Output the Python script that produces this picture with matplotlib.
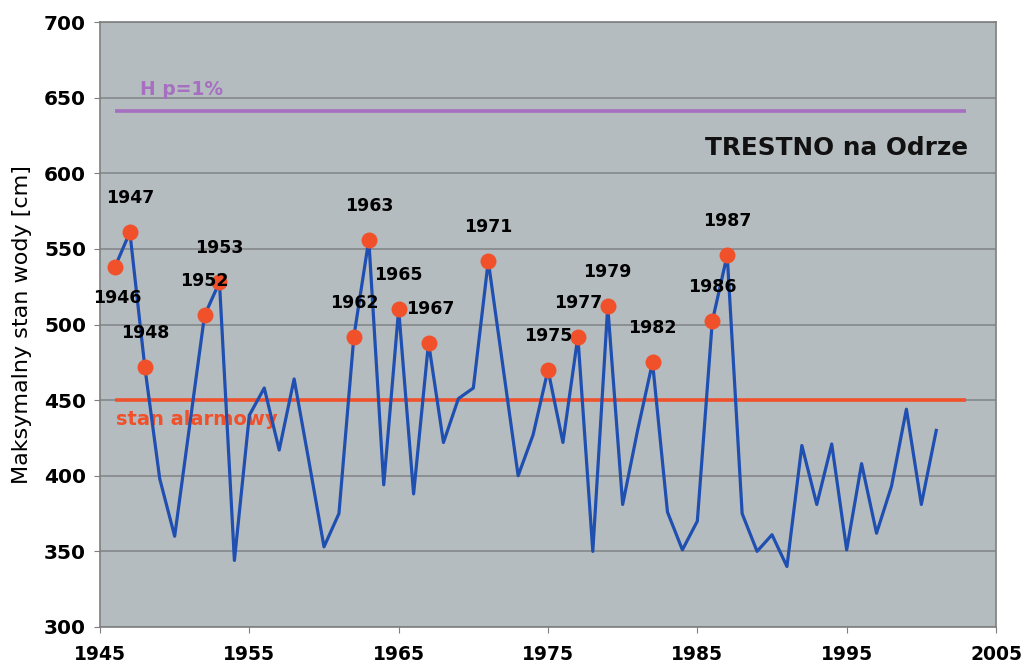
import matplotlib
matplotlib.use("Agg")
import matplotlib.pyplot as plt

plt.rcParams['font.family'] = ['DejaVu Sans']

# Annual maximum water level at Trestno on the Oder [cm]
years = list(range(1946, 2002))
levels = [538, 561, 472, 398, 360, 433, 506, 528, 344, 440,
          458, 417, 464, 409, 353, 375, 492, 556, 394, 510,
          388, 488, 422, 451, 458, 542, 471, 400, 427, 470,
          422, 492, 350, 512, 381, 430, 475, 376, 351, 370,
          502, 546, 375, 350, 361, 340, 420, 381, 421, 351,
          408, 362, 393, 444, 381, 430]

# Years exceeding the alarm level that are marked and labelled
flood_years = [1946, 1947, 1948, 1952, 1953, 1962, 1963, 1965, 1967,
               1971, 1975, 1977, 1979, 1982, 1986, 1987]

alarm_level = 450      # stan alarmowy
flood_level = 641      # H p=1%
ref_span = [1946, 2003]

x_ticks = [1945, 1955, 1965, 1975, 1985, 1995, 2005]
y_ticks = [300, 350, 400, 450, 500, 550, 600, 650, 700]

BG = '#b5bcc0'
GRID = '#84888a'
BLUE = '#1f4fb0'
RED = '#f0502a'
PURPLE = '#a66fc0'

fig = plt.figure(figsize=(10.22, 6.71), dpi=100)
ax = fig.add_axes([100 / 1022, 44 / 671, 896 / 1022, 605 / 671])
ax.set_facecolor(BG)

ax.set_xlim(1945, 2005)
ax.set_ylim(300, 700)
ax.set_xticks(x_ticks)
ax.set_yticks(y_ticks)
ax.yaxis.grid(True, color=GRID, linewidth=1.2)
ax.set_axisbelow(True)

for side in ['left', 'bottom', 'right', 'top']:
    ax.spines[side].set_color('#7f7f7f')
    ax.spines[side].set_linewidth(1.2)

ax.tick_params(axis='y', length=4, pad=6, color='#7f7f7f', labelsize=14.5)
ax.tick_params(axis='x', length=4, pad=9, color='#7f7f7f', labelsize=13.5)
for lab in ax.get_xticklabels() + ax.get_yticklabels():
    lab.set_fontweight('bold')

ax.set_ylabel('Maksymalny stan wody [cm]', fontsize=16, labelpad=9)

# Reference levels
ax.plot(ref_span, [flood_level, flood_level], color=PURPLE, linewidth=2.6,
        solid_capstyle='butt', zorder=2)
ax.plot(ref_span, [alarm_level, alarm_level], color=RED, linewidth=2.6,
        solid_capstyle='butt', zorder=2)
ax.text(1947.7, 655.5, 'H p=1%', color=PURPLE, fontsize=13.5,
        fontweight='bold', ha='left', va='center')
ax.text(1946.1, 437, 'stan alarmowy', color=RED, fontsize=14,
        fontweight='bold', ha='left', va='center')

# Series
ax.plot(years, levels, color=BLUE, linewidth=2.3, zorder=3)

level_by_year = dict(zip(years, levels))
flood_vals = [level_by_year[y] for y in flood_years]
ax.plot(flood_years, flood_vals, linestyle='none', marker='o',
        markersize=11.5, color=RED, markeredgewidth=0, zorder=4)

for yr, val in zip(flood_years, flood_vals):
    dy = -31 if yr == 1946 else 34
    dx = 2 if yr in (1946, 1967) else 0
    ax.annotate(str(yr), (yr, val), xytext=(dx, dy),
                textcoords='offset pixels', ha='center', va='center',
                fontsize=12.5, fontweight='bold', color='black', zorder=5)

ax.text(2003.1, 617, 'TRESTNO na Odrze', fontsize=17.8, fontweight='bold',
        ha='right', va='center', color='#111111')

fig.savefig('out.png', dpi=100, facecolor='white')
